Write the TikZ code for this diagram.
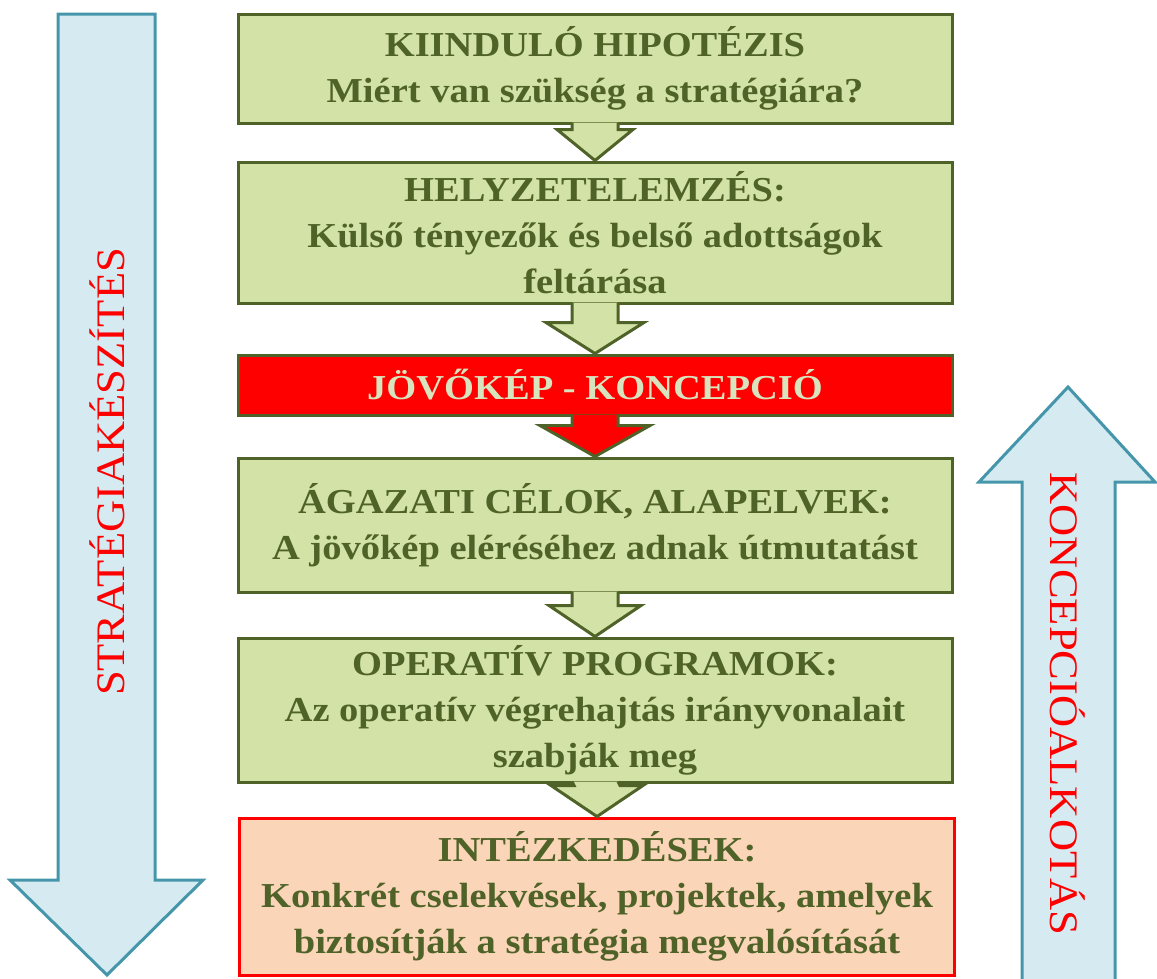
\documentclass[tikz,border=0pt]{standalone}
\usepackage{fontspec}
\setmainfont{Liberation Serif}[FakeStretch=1.1]
\usetikzlibrary{calc}

\definecolor{olivefill}{HTML}{D3E3A8}
\definecolor{olivedark}{HTML}{4F6228}
\definecolor{peach}{HTML}{FBD5B8}
\definecolor{paleolive}{HTML}{D7E4BD}
\definecolor{skyfill}{HTML}{D5EBF1}
\definecolor{skyline}{HTML}{4596AA}

% block arrow from box #1 down to box #2, fill #3, half width of head #4
\newcommand{\stepconn}[4]{%
  \draw[conn, fill=#3] ($(#1.south)+(-23,-2)$) -- ($(#2.north)+(-23,-31)$)
    -- ($(#2.north)+(-#4,-31)$) -- (#2.north) -- ($(#2.north)+(#4,-31)$)
    -- ($(#2.north)+(23,-31)$) -- ($(#1.south)+(23,-2)$);}

\begin{document}
\begin{tikzpicture}[x=1pt,y=-1pt,
  box/.style={rectangle,draw=olivedark,line width=3pt,text=olivedark,align=center,
    minimum width=714pt,inner sep=0pt,font=\bfseries\fontsize{35}{46}\selectfont},
  green box/.style={box,fill=olivefill},
  conn/.style={draw=olivedark,line width=3pt,line join=miter},
  side arrow/.style={draw=skyline,fill=skyfill,line width=3pt,line join=miter},
  side text/.style={text=red,font=\fontsize{40.5}{44}\selectfont}]

  \useasboundingbox (0,0) rectangle (1157,978);

  % side arrows
  \draw[side arrow] (58,14) -- (155,14) -- (155,880) -- (203,880) -- (107,975)
    -- (10,880) -- (58,880) -- cycle;
  \node[side text, rotate=90] (strat) at (107,472) {STRATÉGIAKÉSZÍTÉS};
  \draw[side arrow] (1068,387) -- (1155,482) -- (1115,482) -- (1115,995)
    -- (1022,995) -- (1022,482) -- (979,482) -- cycle;
  \node[side text, rotate=-90] (konc) at (1068,704) {KONCEPCIÓALKOTÁS};

  % boxes
  \node[green box, minimum height=109pt] (hyp) at (595,68.5)
    {KIINDULÓ HIPOTÉZIS\\Miért van szükség a stratégiára?};
  \node[green box, minimum height=141pt] (helyzet) at (595,232.5)
    {HELYZETELEMZÉS:\\Külső tényezők és belső adottságok\\feltárása};
  \node[box, fill=red, text=paleolive, minimum height=60pt] (jovo) at (595,385)
    {JÖVŐKÉP - KONCEPCIÓ};
  \node[green box, minimum height=134pt] (celok) at (595,525)
    {ÁGAZATI CÉLOK, ALAPELVEK:\\A jövőkép eléréséhez adnak útmutatást};
  \node[green box, minimum height=144pt] (oper) at (595,710)
    {OPERATÍV PROGRAMOK:\\Az operatív végrehajtás irányvonalait\\szabják meg};
  \node[box, draw=red, fill=peach, minimum width=715pt, minimum height=157pt] (intez) at (597,896.5)
    {INTÉZKEDÉSEK:\\Konkrét cselekvések, projektek, amelyek\\biztosítják a stratégia megvalósítását};

  % connectors
  \stepconn{hyp}{helyzet}{olivefill}{38}
  \stepconn{helyzet}{jovo}{olivefill}{49}
  \stepconn{jovo}{celok}{red}{55}
  \stepconn{celok}{oper}{olivefill}{46}
  \stepconn{oper}{intez}{olivefill}{46}
\end{tikzpicture}
\end{document}
